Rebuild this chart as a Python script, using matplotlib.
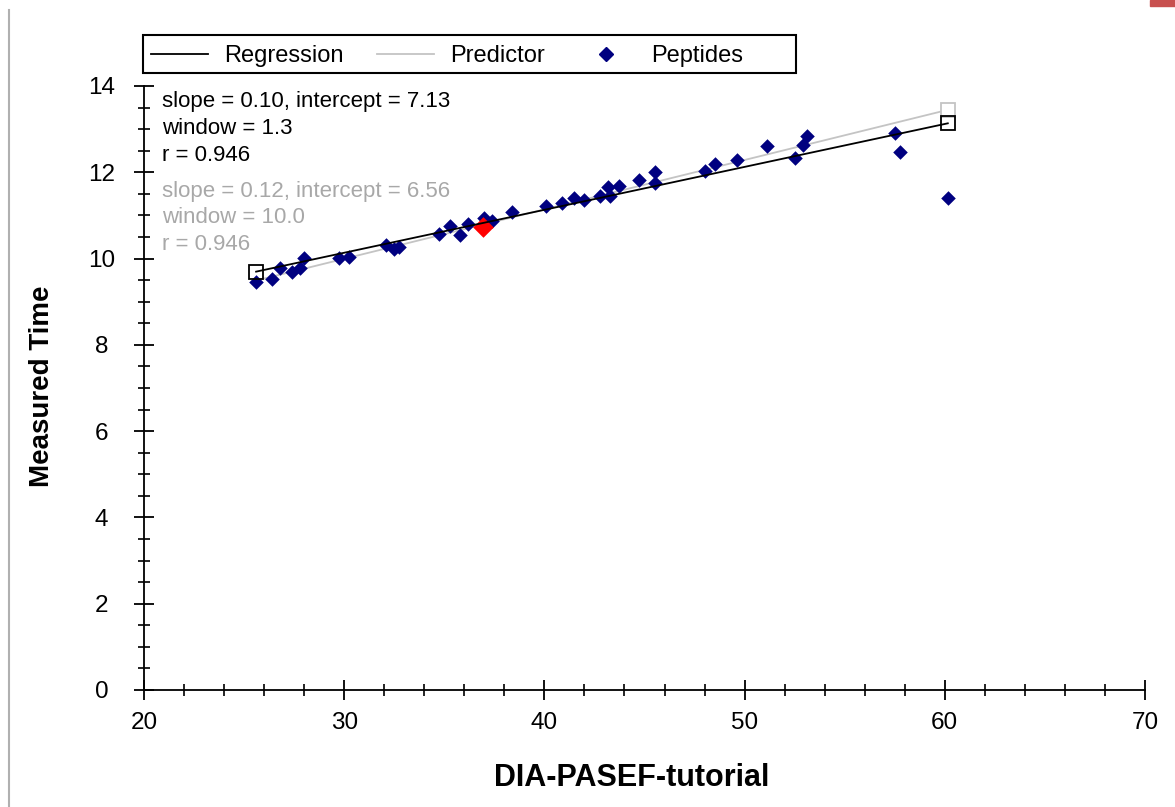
import numpy as np
import matplotlib
matplotlib.use('Agg')
import matplotlib.pyplot as plt
from matplotlib.ticker import MultipleLocator
from matplotlib.lines import Line2D
from matplotlib.patches import Rectangle

plt.rcParams['font.family'] = ['Liberation Sans', 'DejaVu Sans']

# peptide retention times: x = DIA-PASEF-tutorial, y = measured time
pep_x = [25.6, 26.4, 26.8, 27.4, 27.8, 28.0, 29.75, 30.25, 32.1, 32.5,
         32.75, 34.75, 35.3, 35.8, 36.2, 37.0, 37.4, 38.4, 40.1, 40.9,
         41.5, 42.0, 42.8, 43.2, 43.3, 43.75, 44.75, 45.5, 45.5, 48.0,
         48.5, 49.6, 51.1, 52.5, 52.9, 53.1, 57.5, 57.75, 60.15]
pep_y = [9.45, 9.53, 9.77, 9.70, 9.77, 10.01, 10.01, 10.03, 10.32, 10.22,
         10.27, 10.57, 10.76, 10.55, 10.80, 10.95, 10.86, 11.09, 11.22, 11.28,
         11.40, 11.36, 11.45, 11.66, 11.45, 11.68, 11.82, 12.00, 11.76, 12.03,
         12.20, 12.29, 12.60, 12.32, 12.63, 12.84, 12.92, 12.46, 11.40]

# selected peptide
sel_x = [36.95]
sel_y = [10.74]

# regression / predictor lines
reg_slope, reg_intercept = 0.0995, 7.15
pred_slope, pred_intercept = 0.1145, 6.56

reg_text = ['slope = 0.10, intercept = 7.13', 'window = 1.3', 'r = 0.946']
pred_text = ['slope = 0.12, intercept = 6.56', 'window = 10.0', 'r = 0.946']

fig = plt.figure(figsize=(11.75, 8.07), dpi=100)
ax = fig.add_axes([144 / 1175, 1 - 690 / 807, 1001 / 1175, 604 / 807])

line_x = np.array([min(pep_x), max(pep_x)])
pred_color = '#c4c4c4'
ax.plot(line_x, pred_slope * line_x + pred_intercept, color=pred_color, lw=1.3, zorder=2)
ax.plot(line_x[-1:], pred_slope * line_x[-1:] + pred_intercept, 's', ms=10, mfc='white',
        mec=pred_color, mew=1.3, zorder=4)
ax.scatter(pep_x, pep_y, marker='D', s=55, color='#000080', zorder=3, linewidths=0)
ax.scatter(sel_x, sel_y, marker='D', s=110, color='#ff0000', zorder=3, linewidths=0)
ax.plot(line_x, reg_slope * line_x + reg_intercept, color='black', lw=1.3, zorder=4)
ax.plot(line_x, reg_slope * line_x + reg_intercept, 's', ms=10, mfc='none',
        mec='black', mew=1.3, zorder=5)

ax.set_xlim(20, 70)
ax.set_ylim(0, 14)
ax.xaxis.set_major_locator(MultipleLocator(10))
ax.xaxis.set_minor_locator(MultipleLocator(2))
ax.yaxis.set_major_locator(MultipleLocator(2))
ax.yaxis.set_minor_locator(MultipleLocator(0.5))
ax.tick_params(which='major', direction='inout', length=15, width=1.3,
               labelsize=17.5)
ax.tick_params(which='minor', direction='inout', length=8, width=1.2)
ax.xaxis.set_tick_params(pad=8)
ax.yaxis.set_tick_params(pad=23)
for lab in ax.get_yticklabels():
    lab.set_horizontalalignment('center')
ax.spines['top'].set_visible(False)
ax.spines['right'].set_visible(False)
ax.spines['left'].set_linewidth(1.3)
ax.spines['bottom'].set_linewidth(1.3)

ax.set_xlabel('DIA-PASEF-tutorial', fontsize=22, fontweight='bold')
ax.set_ylabel('Measured Time', fontsize=20, fontweight='bold')
ax.xaxis.set_label_coords(0.487, -0.121)
ax.yaxis.set_label_coords(-0.089, 0.503)

for i, t in enumerate(reg_text):
    ax.text(0.018, 0.974 - i * 0.0445, t, transform=ax.transAxes, fontsize=16,
            color='black', va='center')
for i, t in enumerate(pred_text):
    ax.text(0.018, 0.826 - i * 0.0445, t, transform=ax.transAxes, fontsize=16,
            color='#a8a8a8', va='center')

handles = [Line2D([], [], color='black', lw=1.3),
           Line2D([], [], color=pred_color, lw=1.3),
           Line2D([], [], marker='D', ls='none', color='#000080', ms=7)]
leg = ax.legend(handles, ['Regression', 'Predictor', 'Peptides'], ncol=3,
                loc='center left', bbox_to_anchor=(0.0, 1.049),
                fontsize=17, frameon=False, borderaxespad=0,
                handlelength=2.4, handletextpad=0.7, columnspacing=1.4,
                borderpad=0.3)
# legend frame
ax.add_patch(Rectangle((-0.001, 1.0215), 0.652, 0.063, transform=ax.transAxes,
                       fill=False, edgecolor='black', lw=1.5, clip_on=False))

# window frame bits from the screenshot
fig.add_artist(Line2D([9 / 1175, 9 / 1175], [0, 1 - 10 / 807], color='#b0b0b0',
                      lw=1.5, transform=fig.transFigure))
fig.add_artist(Rectangle((1150 / 1175, 1 - 6 / 807), 25 / 1175, 6 / 807,
                         color='#c8504f', transform=fig.transFigure))

plt.savefig('out.png', dpi=100)
